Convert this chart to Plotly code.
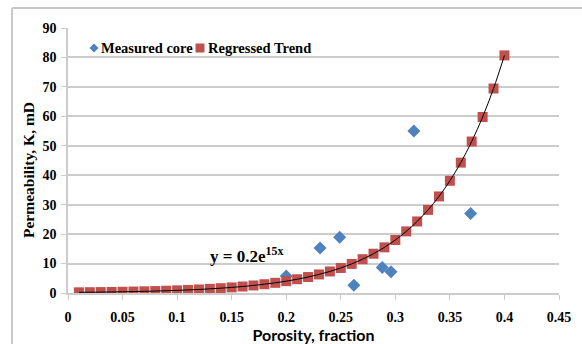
import plotly.graph_objects as go

# Measured core samples
core_porosity = [0.200, 0.231, 0.249, 0.262, 0.288, 0.296, 0.317, 0.369]
core_perm = [5.8, 15.3, 18.9, 2.6, 8.7, 7.2, 55.0, 27.0]

# Regressed trend points
trend_porosity = [0.01, 0.02, 0.03, 0.04, 0.05, 0.06, 0.07, 0.08, 0.09, 0.10,
                  0.11, 0.12, 0.13, 0.14, 0.15, 0.16, 0.17, 0.18, 0.19, 0.20,
                  0.21, 0.22, 0.23, 0.24, 0.25, 0.26, 0.27, 0.28, 0.29, 0.30,
                  0.31, 0.32, 0.33, 0.34, 0.35, 0.36, 0.37, 0.38, 0.39, 0.40]
trend_perm = [0.23, 0.27, 0.31, 0.36, 0.42, 0.49, 0.57, 0.66, 0.77, 0.90,
              1.04, 1.21, 1.41, 1.63, 1.90, 2.20, 2.56, 2.98, 3.46, 4.02,
              4.67, 5.42, 6.30, 7.32, 8.50, 9.88, 11.48, 13.34, 15.50, 18.00,
              20.92, 24.30, 28.23, 32.80, 38.11, 44.28, 51.45, 59.77, 69.45, 80.69]

x_tickvals = [0, 0.05, 0.1, 0.15, 0.2, 0.25, 0.3, 0.35, 0.4, 0.45]
x_ticktext = ["0", "0.05", "0.1", "0.15", "0.2", "0.25", "0.3", "0.35", "0.4", "0.45"]
y_tickvals = [0, 10, 20, 30, 40, 50, 60, 70, 80, 90]

legend_names = ["Measured core", "Regressed Trend"]
y_title = "Permeability, K, mD"

SERIF = "Liberation Serif"
GRID = "#CCCCCC"
BLUE = "#4F81BD"
RED = "#C0504D"

# plot area geometry (px) for placing the hand-drawn legend
W, H = 582, 344
ML, MR, MT, MB = 68, 23, 28, 51
PW, PH = W - ML - MR, H - MT - MB


def px_to_paper(px, py):
    return (px - ML) / PW, (H - MB - py) / PH


fig = go.Figure()
fig.add_trace(go.Scatter(
    x=core_porosity, y=core_perm, mode="markers", name=legend_names[0],
    marker=dict(symbol="diamond", size=10, color=BLUE),
))
fig.add_trace(go.Scatter(
    x=trend_porosity, y=trend_perm, mode="markers", name=legend_names[1],
    marker=dict(symbol="square", size=10, color=RED),
))
fig.add_trace(go.Scatter(
    x=trend_porosity, y=trend_perm, mode="lines", showlegend=False,
    line=dict(color="black", width=1, shape="spline"), hoverinfo="skip",
))

fig.add_annotation(
    x=0.164, y=13.0, xref="x", yref="y", showarrow=False,
    text="y = 0.2e<sup>15x</sup>",
    font=dict(family=SERIF, size=17, color="black", weight="bold"),
)

# y-axis title placed as in the reference (slightly below the axis centre)
yx, yy = px_to_paper(28, 170)
fig.add_annotation(x=yx, y=yy, xref="paper", yref="paper", showarrow=False,
                   xanchor="center", yanchor="middle",
                   textangle=-90, text=y_title,
                   font=dict(family=SERIF, size=15.5, color="black", weight="bold"))

# legend drawn inline: symbol + label
lx, ly = px_to_paper(94, 48)
hx, hy = 4.5 / PW, 4.5 / PH
fig.add_shape(type="path", xref="paper", yref="paper",
              path=f"M {lx - hx} {ly} L {lx} {ly + hy} L {lx + hx} {ly} L {lx} {ly - hy} Z",
              fillcolor=BLUE, line=dict(width=0))
tx, ty = px_to_paper(99, 48)
fig.add_annotation(x=tx, y=ty, xref="paper", yref="paper", xanchor="left", yanchor="middle",
                   showarrow=False, text=legend_names[0],
                   font=dict(family=SERIF, size=14.5, color="black", weight="bold"))
sx, sy = px_to_paper(200, 48)
qx, qy = 4.5 / PW, 4.5 / PH
fig.add_shape(type="rect", xref="paper", yref="paper",
              x0=sx - qx, x1=sx + qx, y0=sy - qy, y1=sy + qy,
              fillcolor=RED, line=dict(width=0))
tx2, ty2 = px_to_paper(206, 48)
fig.add_annotation(x=tx2, y=ty2, xref="paper", yref="paper", xanchor="left", yanchor="middle",
                   showarrow=False, text=legend_names[1],
                   font=dict(family=SERIF, size=14.5, color="black", weight="bold"))

# outer chart border (only top and left visible in the crop)
bx, by = px_to_paper(12, 8)
fig.add_shape(type="line", xref="paper", yref="paper",
              x0=bx, x1=1.2, y0=by, y1=by,
              line=dict(color="#C8C8C8", width=2))
fig.add_shape(type="line", xref="paper", yref="paper",
              x0=bx, x1=bx, y0=by, y1=-0.3,
              line=dict(color="#C8C8C8", width=2))

fig.update_xaxes(
    range=[0, 0.45], tickvals=x_tickvals, ticktext=x_ticktext, automargin=False,
    showgrid=False, zeroline=False, showline=True, linecolor=GRID, linewidth=1.5,
    ticks="outside", ticklen=5, tickcolor=GRID, tickwidth=1, ticklabelstandoff=5,
    tickfont=dict(family=SERIF, size=14, color="black", weight="bold"),
    title=dict(text="Porosity, fraction", standoff=4,
               font=dict(family="Lato", size=16, color="black", weight="bold")),
)
fig.update_yaxes(
    range=[0, 90], tickvals=y_tickvals, automargin=False,
    showgrid=True, gridcolor=GRID, gridwidth=1.5, zeroline=False,
    showline=True, linecolor=GRID, linewidth=1.5,
    ticks="outside", ticklen=5, tickcolor=GRID, tickwidth=1, ticklabelstandoff=2,
    tickfont=dict(family=SERIF, size=14, color="black", weight="bold"),
)

fig.update_layout(
    width=W, height=H,
    margin=dict(l=ML, r=MR, t=MT, b=MB),
    paper_bgcolor="white", plot_bgcolor="white",
    showlegend=False,
)

fig.write_html("out.html")
